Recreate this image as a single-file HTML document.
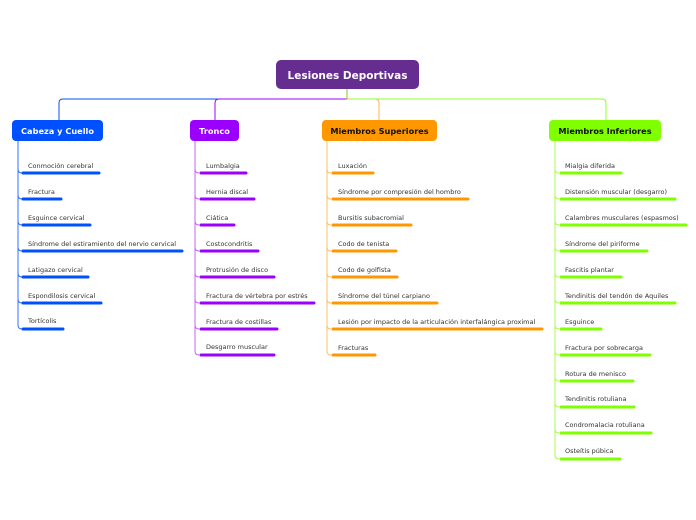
<!DOCTYPE html>
<html><head><meta charset="utf-8"><style>
html,body{margin:0;padding:0;background:#fff;}
svg{display:block}
.t{font-family:"DejaVu Sans","Liberation Sans",sans-serif;font-size:6.5px;fill:#333}
.h{font-family:"DejaVu Sans","Liberation Sans",sans-serif;font-size:8.2px;font-weight:bold}
</style></head><body>
<svg width="696" height="520" viewBox="0 0 696 520" xmlns="http://www.w3.org/2000/svg">
<g fill="none" stroke-width="1">
<path d="M347,89 V99 H63 Q59,99 59,103 V120" stroke="#0050ff"/>
<path d="M347,99 H219 Q215,99 215,103 V120" stroke="#9b00ff"/>
<path d="M347,89 V99 H375 Q379,99 379,103 V120" stroke="#ffb347"/>
<path d="M350,99 H602 Q606,99 606,103 V120" stroke="#8fff2a"/>
<path d="M347,89 V99" stroke="#7fcc00"/>
</g>
<rect x="276" y="60" width="143" height="29" rx="5" fill="#662d91"/>
<text x="347.5" y="79" text-anchor="middle" class="h" style="font-size:10.5px" fill="#fff">Lesiones Deportivas</text>

<rect x="12" y="120" width="91" height="21" rx="4" fill="#0050ff"/>
<text x="57.5" y="134" text-anchor="middle" class="h" fill="#fff">Cabeza y Cuello</text>
<g fill="none" stroke="#0050ff" stroke-width="1" opacity="0.8">
<path d="M18,141 V325 Q18,329 22,329"/>
<path d="M18,169 Q18,173 22,173"/><path d="M18,195 Q18,199 22,199"/><path d="M18,221 Q18,225 22,225"/><path d="M18,247 Q18,251 22,251"/><path d="M18,273 Q18,277 22,277"/><path d="M18,299 Q18,303 22,303"/>
</g>
<g stroke="#0050ff" stroke-width="3" stroke-linecap="round">
<path d="M23,173H99"/><path d="M23,199H61"/><path d="M23,225H90"/><path d="M23,251H182"/><path d="M23,277H88"/><path d="M23,303H101"/><path d="M23,329H63"/>
</g>
<text class="t" x="28" y="168">Conmoción cerebral</text>
<text class="t" x="28" y="194">Fractura</text>
<text class="t" x="28" y="220">Esguince cervical</text>
<text class="t" x="28" y="246">Síndrome del estiramiento del nervio cervical</text>
<text class="t" x="28" y="272">Latigazo cervical</text>
<text class="t" x="28" y="298">Espondilosis cervical</text>
<text class="t" x="28" y="323">Tortícolis</text>

<rect x="190" y="120" width="49" height="21" rx="4" fill="#9b00ff"/>
<text x="214.5" y="134" text-anchor="middle" class="h" fill="#fff">Tronco</text>
<g fill="none" stroke="#9b00ff" stroke-width="1" opacity="0.6">
<path d="M195,141 V351 Q195,355 199,355"/>
<path d="M195,169 Q195,173 199,173"/><path d="M195,195 Q195,199 199,199"/><path d="M195,221 Q195,225 199,225"/><path d="M195,247 Q195,251 199,251"/><path d="M195,273 Q195,277 199,277"/><path d="M195,299 Q195,303 199,303"/><path d="M195,325 Q195,329 199,329"/>
</g>
<g stroke="#9b00ff" stroke-width="3" stroke-linecap="round">
<path d="M201,173H246"/><path d="M201,199H254"/><path d="M201,225H234"/><path d="M201,251H258"/><path d="M201,277H274"/><path d="M201,303H314"/><path d="M201,329H277"/><path d="M201,355H274"/>
</g>
<text class="t" x="206" y="168">Lumbalgia</text>
<text class="t" x="206" y="194">Hernia discal</text>
<text class="t" x="206" y="220">Ciática</text>
<text class="t" x="206" y="246">Costocondritis</text>
<text class="t" x="206" y="272">Protrusión de disco</text>
<text class="t" x="206" y="298">Fractura de vértebra por estrés</text>
<text class="t" x="206" y="324">Fractura de costillas</text>
<text class="t" x="206" y="349">Desgarro muscular</text>

<rect x="322" y="120" width="115" height="21" rx="4" fill="#ff9800"/>
<text x="379.5" y="134" text-anchor="middle" class="h" fill="#111">Miembros Superiores</text>
<g fill="none" stroke="#ff9800" stroke-width="1" opacity="0.6">
<path d="M327,141 V351 Q327,355 331,355"/>
<path d="M327,169 Q327,173 331,173"/><path d="M327,195 Q327,199 331,199"/><path d="M327,221 Q327,225 331,225"/><path d="M327,247 Q327,251 331,251"/><path d="M327,273 Q327,277 331,277"/><path d="M327,299 Q327,303 331,303"/><path d="M327,325 Q327,329 331,329"/>
</g>
<g stroke="#ff9800" stroke-width="3" stroke-linecap="round">
<path d="M333,173H373"/><path d="M333,199H468"/><path d="M333,225H411"/><path d="M333,251H396"/><path d="M333,277H397"/><path d="M333,303H437"/><path d="M333,329H542"/><path d="M333,355H375"/>
</g>
<text class="t" x="338" y="168">Luxación</text>
<text class="t" x="338" y="194">Síndrome por compresión del hombro</text>
<text class="t" x="338" y="220">Bursitis subacromial</text>
<text class="t" x="338" y="246">Codo de tenista</text>
<text class="t" x="338" y="272">Codo de golfista</text>
<text class="t" x="338" y="298">Síndrome del túnel carpiano</text>
<text class="t" x="338" y="324">Lesión por impacto de la articulación interfalángica proximal</text>
<text class="t" x="338" y="350">Fracturas</text>

<rect x="549" y="120" width="112" height="21" rx="4" fill="#7fff00"/>
<text x="605" y="134" text-anchor="middle" class="h" fill="#111">Miembros Inferiores</text>
<g fill="none" stroke="#7fff00" stroke-width="1" opacity="0.7">
<path d="M555,141 V455 Q555,459 559,459"/>
<path d="M555,169 Q555,173 559,173"/><path d="M555,195 Q555,199 559,199"/><path d="M555,221 Q555,225 559,225"/><path d="M555,247 Q555,251 559,251"/><path d="M555,273 Q555,277 559,277"/><path d="M555,299 Q555,303 559,303"/><path d="M555,325 Q555,329 559,329"/><path d="M555,351 Q555,355 559,355"/><path d="M555,377 Q555,381 559,381"/><path d="M555,403 Q555,407 559,407"/><path d="M555,429 Q555,433 559,433"/>
</g>
<g stroke="#7fff00" stroke-width="3" stroke-linecap="round">
<path d="M561,173H621"/><path d="M561,199H675"/><path d="M561,225H686"/><path d="M561,251H647"/><path d="M561,277H621"/><path d="M561,303H675"/><path d="M561,329H601"/><path d="M561,355H650"/><path d="M561,381H633"/><path d="M561,407H634"/><path d="M561,433H651"/><path d="M561,459H620"/>
</g>
<text class="t" x="565" y="168">Mialgia diferida</text>
<text class="t" x="565" y="194">Distensión muscular (desgarro)</text>
<text class="t" x="565" y="220">Calambres musculares (espasmos)</text>
<text class="t" x="565" y="246">Síndrome del piriforme</text>
<text class="t" x="565" y="272">Fascitis plantar</text>
<text class="t" x="565" y="298">Tendinitis del tendón de Aquiles</text>
<text class="t" x="565" y="324">Esguince</text>
<text class="t" x="565" y="350">Fractura por sobrecarga</text>
<text class="t" x="565" y="376">Rotura de menisco</text>
<text class="t" x="565" y="401">Tendinitis rotuliana</text>
<text class="t" x="565" y="427">Condromalacia rotuliana</text>
<text class="t" x="565" y="453">Osteítis púbica</text>
</svg>
</body></html>
